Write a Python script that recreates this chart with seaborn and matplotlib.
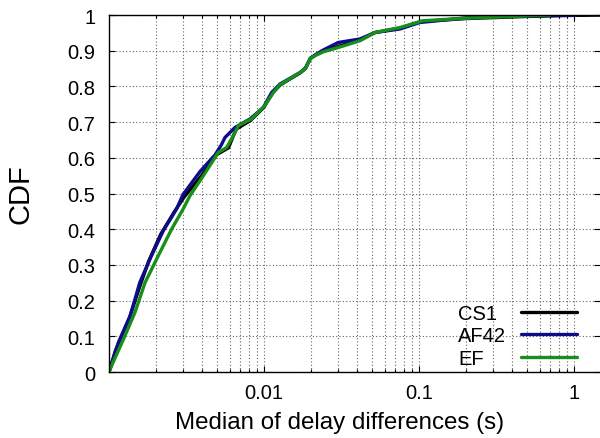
import matplotlib
matplotlib.use("Agg")
import numpy as np
import pandas as pd
import matplotlib.pyplot as plt
from matplotlib.ticker import LogLocator, NullFormatter, FixedLocator, FixedFormatter
import seaborn as sns

# CDF points, one curve per traffic class
cs1_delay = [0.001, 0.0011, 0.00135, 0.00158, 0.0018, 0.00215, 0.00265, 0.00305,
             0.00395, 0.0049, 0.0059, 0.0066, 0.0082, 0.0100, 0.0113, 0.0127, 0.0171,
             0.0185, 0.0199, 0.0215, 0.0241, 0.0301, 0.0416, 0.052, 0.0754, 0.103,
             0.2, 0.5, 1.0, 1.6]
cs1_cdf = [0, 0.06, 0.15, 0.24, 0.31, 0.385, 0.45, 0.49,
           0.55, 0.608, 0.628, 0.68, 0.705, 0.742, 0.781, 0.804, 0.838,
           0.85, 0.879, 0.888, 0.898, 0.912, 0.93, 0.951, 0.963, 0.982,
           0.99, 0.996, 0.999, 1.0]

af42_delay = [0.001, 0.00115, 0.00137, 0.00158, 0.00188, 0.00224, 0.00273, 0.003,
              0.00387, 0.00483, 0.0053, 0.0056, 0.0065, 0.00813, 0.0099, 0.0112, 0.0127,
              0.0171, 0.0185, 0.0199, 0.0215, 0.0241, 0.0301, 0.0416, 0.052, 0.0754,
              0.101, 0.2, 0.54, 1.04]
af42_cdf = [0, 0.083, 0.158, 0.251, 0.326, 0.396, 0.457, 0.497,
            0.562, 0.608, 0.636, 0.657, 0.685, 0.709, 0.741, 0.783, 0.807,
            0.839, 0.852, 0.878, 0.889, 0.902, 0.923, 0.933, 0.951, 0.961,
            0.979, 0.992, 0.998, 1.0]

ef_delay = [0.001, 0.00104, 0.00124, 0.00147, 0.00171, 0.00208, 0.00254, 0.00301,
            0.00333, 0.00406, 0.00507, 0.00574, 0.00634, 0.00683, 0.0083, 0.0101,
            0.0115, 0.0127, 0.0171, 0.0185, 0.0199, 0.0215, 0.0241, 0.0301, 0.0416,
            0.052, 0.0754, 0.106, 0.2, 0.4, 0.7]
ef_cdf = [0, 0.018, 0.092, 0.167, 0.251, 0.326, 0.401, 0.457,
          0.494, 0.55, 0.615, 0.629, 0.662, 0.69, 0.709, 0.746,
          0.783, 0.805, 0.839, 0.85, 0.878, 0.887, 0.897, 0.909, 0.928,
          0.951, 0.965, 0.984, 0.991, 0.996, 1.0]

classes = ["CS1", "AF42", "EF"]
colors = ["#000000", "#0c0c8c", "#17901a"]

y_ticks = [0, 0.1, 0.2, 0.3, 0.4, 0.5, 0.6, 0.7, 0.8, 0.9, 1]
y_labels = ["0", "0.1", "0.2", "0.3", "0.4", "0.5", "0.6", "0.7", "0.8", "0.9", "1"]
x_ticks = [0.01, 0.1, 1]
x_labels = ["0.01", "0.1", "1"]

frames = []
for name, d, c in [("CS1", cs1_delay, cs1_cdf), ("AF42", af42_delay, af42_cdf), ("EF", ef_delay, ef_cdf)]:
    frames.append(pd.DataFrame({"delay": d, "cdf": c, "class": name}))
df = pd.concat(frames, ignore_index=True)

sns.set_style("ticks")
plt.rcParams["font.family"] = ["Liberation Sans", "DejaVu Sans"]
plt.rcParams["text.color"] = "black"
plt.rcParams["axes.labelcolor"] = "black"
plt.rcParams["xtick.color"] = "black"
plt.rcParams["ytick.color"] = "black"

fig = plt.figure(figsize=(6, 4.39), dpi=100)
ax = fig.add_axes([0.1817, 0.1503, 0.8183, 0.8132])

sns.lineplot(data=df, x="delay", y="cdf", hue="class", hue_order=classes,
             palette=colors, sort=False, estimator=None, linewidth=2.4, ax=ax)

ax.set_xscale("log")
ax.set_xlim(0.001, 1.47)
ax.set_ylim(0, 1)

ax.xaxis.set_major_locator(FixedLocator(x_ticks))
ax.xaxis.set_major_formatter(FixedFormatter(x_labels))
ax.xaxis.set_minor_locator(LogLocator(base=10, subs=np.arange(2, 10)))
ax.xaxis.set_minor_formatter(NullFormatter())
ax.yaxis.set_major_locator(FixedLocator(y_ticks))
ax.yaxis.set_major_formatter(FixedFormatter(y_labels))

# gnuplot-like dotted grid on major and minor x, major y
grid_kw = dict(color="#666666", linestyle=(0, (1, 2)), linewidth=0.8)
ax.grid(True, which="major", axis="both", **grid_kw)
ax.grid(True, which="minor", axis="x", **grid_kw)
ax.set_axisbelow(True)

ax.tick_params(which="both", direction="in", top=True, right=True)
ax.tick_params(which="major", length=4, width=0.8, labelsize=14.5)
ax.tick_params(which="minor", length=2.2, width=0.8)
ax.tick_params(axis="x", pad=8)
ax.tick_params(axis="y", pad=10)

for side in ["left", "bottom", "top"]:
    ax.spines[side].set_linewidth(1.0)
    ax.spines[side].set_color("black")
ax.spines["right"].set_visible(False)

ax.set_xlabel("Median of delay differences (s)", fontsize=17.4)
ax.xaxis.set_label_coords(0.47, -0.108)
ax.set_ylabel("CDF", fontsize=21, va="center")
ax.yaxis.set_label_coords(-0.181, 0.5)

leg = ax.legend(loc="lower right", bbox_to_anchor=(0.953, 0.012), frameon=False,
                markerfirst=False, fontsize=14.5, handlelength=2.8, handletextpad=0.7,
                labelspacing=0.17, borderpad=0, borderaxespad=0)

# gnuplot keeps the key text left-justified: widen the gap for shorter labels
fig.canvas.draw()
renderer = fig.canvas.get_renderer()
widths = [t.get_window_extent(renderer).width for t in leg.get_texts()]
px_per_pt = fig.dpi / 72.0
rows = leg._legend_handle_box.get_children()[0].get_children()
for row, w in zip(rows, widths):
    row.sep = row.sep + (max(widths) - w) / px_per_pt

fig.savefig("out.png", dpi=100)
